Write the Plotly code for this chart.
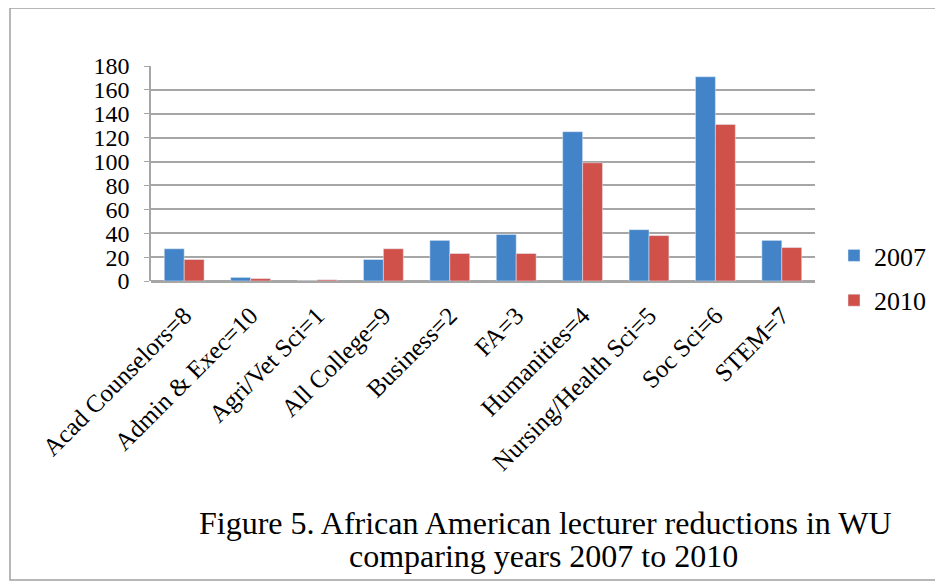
import plotly.graph_objects as go

categories = ["Acad Counselors=8", "Admin & Exec=10", "Agri/Vet Sci=1", "All College=9",
              "Business=2", "FA=3", "Humanities=4", "Nursing/Health Sci=5", "Soc Sci=6", "STEM=7"]
y2007 = [27, 3, 0, 18, 34, 39, 125, 43, 171, 34]
y2010 = [18, 2, 1, 27, 23, 23, 99, 38, 131, 28]
y_ticks = [0, 20, 40, 60, 80, 100, 120, 140, 160, 180]

FONT = "Liberation Serif, Times New Roman, serif"
GRID = "#a6a6a6"

# the page body has an 8px margin, so the figure is drawn 8px smaller and all
# reference pixel positions are shifted by that amount
OFF = 8
FIG_W, FIG_H = 943 - OFF, 586 - OFF

# plot area in reference pixels: x 151..815, y 66..281
L, R, T, B = 151, 815, 66, 281
W, H = R - L, B - T


def px(x):
    return (x - L) / W


def py(y):
    return (B - y) / H


fig = go.Figure()
fig.add_trace(go.Bar(x=categories, y=y2007, name="2007", marker_color="#4384c8",
                     legendgroup="a"))
fig.add_trace(go.Bar(x=categories, y=y2010, name="2010", marker_color="#d0504a",
                     legendgroup="b"))

# outer frame
fig.add_shape(type="rect", xref="paper", yref="paper",
              x0=px(10), x1=px(940), y0=py(580), y1=py(8),
              line=dict(color="#a0a0a0", width=1.5), layer="below")

# caption, two lines set close together
fig.add_annotation(xref="paper", yref="paper", x=px(545), y=py(523),
                   text="Figure 5. African American lecturer reductions in WU",
                   showarrow=False, font=dict(family=FONT, size=32, color="black"),
                   xanchor="center", yanchor="middle")
fig.add_annotation(xref="paper", yref="paper", x=px(543), y=py(556),
                   text="comparing years 2007 to 2010",
                   showarrow=False, font=dict(family=FONT, size=32, color="black"),
                   xanchor="center", yanchor="middle")

fig.update_layout(
    width=FIG_W, height=FIG_H,
    margin=dict(l=L - OFF, r=FIG_W - (R - OFF), t=T - OFF, b=FIG_H - (B - OFF),
                autoexpand=False),
    paper_bgcolor="white", plot_bgcolor="white",
    barmode="group", bargap=0.4, bargroupgap=0,
    font=dict(family=FONT, size=24, color="black"),
    showlegend=True,
    legend=dict(x=px(834), y=py(232), xanchor="left", yanchor="top",
                font=dict(family=FONT, size=26), traceorder="grouped",
                tracegroupgap=8, itemwidth=30, bgcolor="rgba(0,0,0,0)"),
    xaxis=dict(tickangle=-45, showgrid=False, showline=False, ticks="",
               ticklabelstandoff=14, tickfont=dict(family=FONT, size=25)),
    yaxis=dict(range=[0, 180], tickvals=y_ticks, showgrid=True, gridcolor=GRID,
               gridwidth=2, zeroline=True, zerolinecolor=GRID, zerolinewidth=2.5,
               showline=True, linecolor=GRID, linewidth=1.5, ticks="outside",
               ticklen=5, tickcolor=GRID, ticklabelstandoff=10,
               tickfont=dict(family=FONT, size=24)),
)

fig.write_html("out.html")
